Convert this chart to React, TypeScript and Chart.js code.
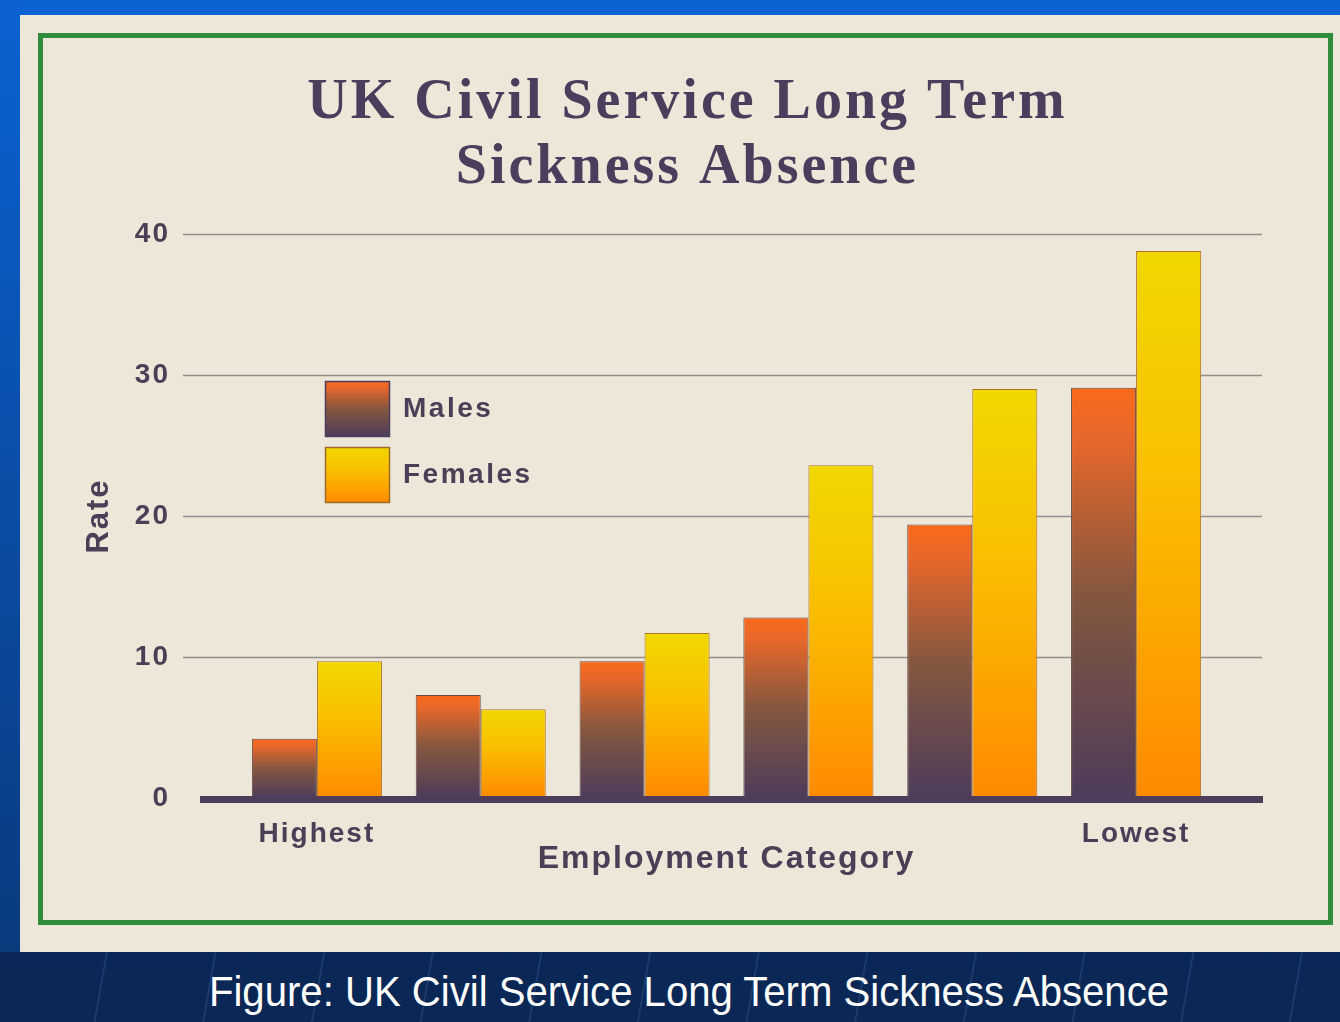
import React, { useEffect, useRef } from "react";
import { Chart, registerables } from "chart.js";

Chart.register(...registerables);

const CATEGORIES = ["Highest", "", "", "", "", "Lowest"];
const MALES = [4.2, 7.3, 9.7, 12.8, 19.4, 29.1];
const FEMALES = [9.7, 6.3, 11.7, 23.6, 29.0, 38.8];
const SERIES_NAMES = ["Males", "Females"];
const Y_TICKS = [0, 10, 20, 30, 40];
const TITLE_LINES = ["UK Civil Service Long Term", "Sickness Absence"];
const X_TITLE = "Employment Category";
const Y_TITLE = "Rate";
const CAPTION = "Figure: UK Civil Service Long Term Sickness Absence";

const TEXT = "#4a3f56";
const SANS = "'Liberation Sans', Arial, sans-serif";
const MALE_STOPS: [number, string][] = [
  [0, "#f86a1a"],
  [0.12, "#e8672a"],
  [0.5, "#85573f"],
  [1, "#4d3c5b"],
];
const FEMALE_STOPS: [number, string][] = [
  [0, "#f0d800"],
  [0.4, "#f9c000"],
  [1, "#ff8a00"],
];

function grad(ctx: CanvasRenderingContext2D, top: number, bottom: number, stops: [number, string][]) {
  const g = ctx.createLinearGradient(0, top, 0, bottom);
  stops.forEach(([o, c]) => g.addColorStop(o, c));
  return g;
}

function barFill(stops: [number, string][]) {
  return (c: any) => {
    const chart = c.chart;
    const y = chart.scales && chart.scales.y;
    if (!chart.chartArea || !y || c.type !== "data") return stops[0][1];
    const top = y.getPixelForValue(c.raw);
    const bottom = y.getPixelForValue(0);
    if (!isFinite(top) || !isFinite(bottom) || bottom - top < 1) return stops[0][1];
    return grad(chart.ctx, top, bottom, stops);
  };
}

const decor = {
  id: "decor",
  beforeUpdate(chart: any) {
    chart.ctx.letterSpacing = "2px";
  },
  beforeDraw(chart: any) {
    chart.ctx.letterSpacing = "2px";
  },
  beforeDatasetsDraw(chart: any) {
    const { ctx, chartArea, scales } = chart;
    const y = scales.y;
    ctx.save();
    ctx.strokeStyle = "#948e88";
    ctx.lineWidth = 1.5;
    Y_TICKS.forEach((v) => {
      if (v === 0) return;
      const py = Math.round(y.getPixelForValue(v)) + 0.5;
      ctx.beginPath();
      ctx.moveTo(chartArea.left - 52, py);
      ctx.lineTo(chartArea.right + 44, py);
      ctx.stroke();
    });
    ctx.restore();
  },
  afterDatasetsDraw(chart: any) {
    const { ctx, chartArea, scales } = chart;
    const y = scales.y;
    const y0 = y.getPixelForValue(0);
    ctx.save();
    ctx.fillStyle = "#4d3d5a";
    ctx.fillRect(chartArea.left - 35, y0 - 2, chartArea.right + 45 - (chartArea.left - 35), 7);

    // legend
    const bx = chartArea.left + 90;
    const by = chartArea.top + 147;
    const bw = 65;
    const bh = 56;
    const stops = [MALE_STOPS, FEMALE_STOPS];
    const borders = ["#4d3c5b", "#a06a28"];
    SERIES_NAMES.forEach((name, i) => {
      const top = by + i * 66;
      ctx.fillStyle = grad(ctx, top, top + bh, stops[i]);
      ctx.fillRect(bx, top, bw, bh);
      ctx.strokeStyle = borders[i];
      ctx.lineWidth = 1.5;
      ctx.strokeRect(bx + 0.5, top + 0.5, bw - 1, bh - 1);
      ctx.fillStyle = TEXT;
      ctx.font = "bold 28px " + SANS;
      ctx.letterSpacing = "2.5px";
      ctx.textAlign = "left";
      ctx.textBaseline = "middle";
      ctx.fillText(name, bx + 78, top + bh / 2);
    });

    ctx.restore();
  },
  afterDraw(chart: any) {
    const { ctx, width } = chart;
    ctx.save();
    ctx.fillStyle = "#4b3d5c";
    ctx.font = "bold 56px 'Liberation Serif', 'Times New Roman', serif";
    ctx.letterSpacing = "3px";
    ctx.textAlign = "center";
    ctx.textBaseline = "middle";
    ctx.fillText(TITLE_LINES[0], width / 2 + 2, 66);
    ctx.fillText(TITLE_LINES[1], width / 2 + 2, 131);
    ctx.restore();
  },
};

function ChartCanvas() {
  const ref = useRef<HTMLCanvasElement | null>(null);
  useEffect(() => {
    if (!ref.current) return;
    const chart = new Chart(ref.current, {
      type: "bar",
      data: {
        labels: CATEGORIES,
        datasets: [
          {
            label: SERIES_NAMES[0],
            data: MALES,
            backgroundColor: barFill(MALE_STOPS) as any,
            borderColor: "#6a4a48",
            borderWidth: 1,
            barPercentage: 1,
            categoryPercentage: 0.794,
          },
          {
            label: SERIES_NAMES[1],
            data: FEMALES,
            backgroundColor: barFill(FEMALE_STOPS) as any,
            borderColor: "#b07428",
            borderWidth: 1,
            barPercentage: 1,
            categoryPercentage: 0.794,
          },
        ],
      },
      options: {
        animation: false,
        responsive: false,
        devicePixelRatio: 1,
        layout: { padding: { top: 196, left: 20, right: 110, bottom: 30 } },
        plugins: {
          legend: { display: false },
          title: { display: false },
          tooltip: { enabled: false },
        },
        scales: {
          x: {
            grid: { display: false },
            border: { display: false },
            ticks: {
              color: TEXT,
              font: { family: SANS, size: 28, weight: "bold" },
              padding: 11,
              maxRotation: 0,
              autoSkip: false,
            },
            title: {
              display: true,
              text: X_TITLE,
              color: TEXT,
              font: { family: SANS, size: 32, weight: "bold" },
              padding: { top: 0, bottom: 12 },
            },
            afterFit(scale: any) {
              scale.height = 92;
            },
          },
          y: {
            min: 0,
            max: 40,
            grid: { display: false },
            border: { display: false },
            ticks: {
              stepSize: 10,
              color: TEXT,
              padding: 57,
              font: { family: SANS, size: 28, weight: "bold" },
            },
            title: {
              display: true,
              text: Y_TITLE,
              color: TEXT,
              font: { family: SANS, size: 31, weight: "bold" },
              padding: { top: 18, bottom: 0 },
            },
            afterFit(scale: any) {
              scale.width = 172;
            },
          },
        },
      },
      plugins: [decor],
    });
    return () => chart.destroy();
  }, []);
  return (
    <canvas
      ref={ref}
      width={1285}
      height={882}
      style={{ position: "absolute", left: 43, top: 38, width: 1285, height: 882 }}
    />
  );
}

export default function App() {
  return (
    <div
      style={{
        position: "fixed",
        left: 0,
        top: 0,
        width: 1340,
        height: 1022,
        overflow: "hidden",
        background: "linear-gradient(180deg, #0b3470 0%, #0a2755 100%)",
      }}
    >
      <div
        style={{
          position: "absolute",
          left: 0,
          top: 952,
          width: 1340,
          height: 70,
          background:
            "repeating-linear-gradient(100deg, rgba(120,160,220,0) 0px, rgba(120,160,220,0) 104px, rgba(120,160,220,0.2) 105px, rgba(120,160,220,0) 107px)",
        }}
      />
      <div style={{ position: "absolute", left: 0, top: 0, width: 1340, height: 15, background: "#0b62d2" }} />
      <div
        style={{
          position: "absolute",
          left: 0,
          top: 0,
          width: 20,
          height: 952,
          background: "linear-gradient(180deg, #0b62d2 0%, #0a4aa0 60%, #0a3a7c 100%)",
        }}
      />
      <div style={{ position: "absolute", left: 20, top: 15, width: 1320, height: 937, background: "#ece7d8" }} />
      <div
        style={{
          position: "absolute",
          left: 38,
          top: 33,
          width: 1295,
          height: 892,
          border: "5px solid #2f8c3b",
          boxSizing: "border-box",
        }}
      />
      <ChartCanvas />
      <div
        style={{
          position: "absolute",
          left: 689 - 700,
          top: 966,
          width: 1400,
          textAlign: "center",
          color: "#ffffff",
          fontFamily: SANS,
          fontSize: 42,
          lineHeight: "52px",
          whiteSpace: "nowrap",
          transform: "scaleX(0.955)",
          transformOrigin: "700px 50%",
        }}
      >
        {CAPTION}
      </div>
    </div>
  );
}
